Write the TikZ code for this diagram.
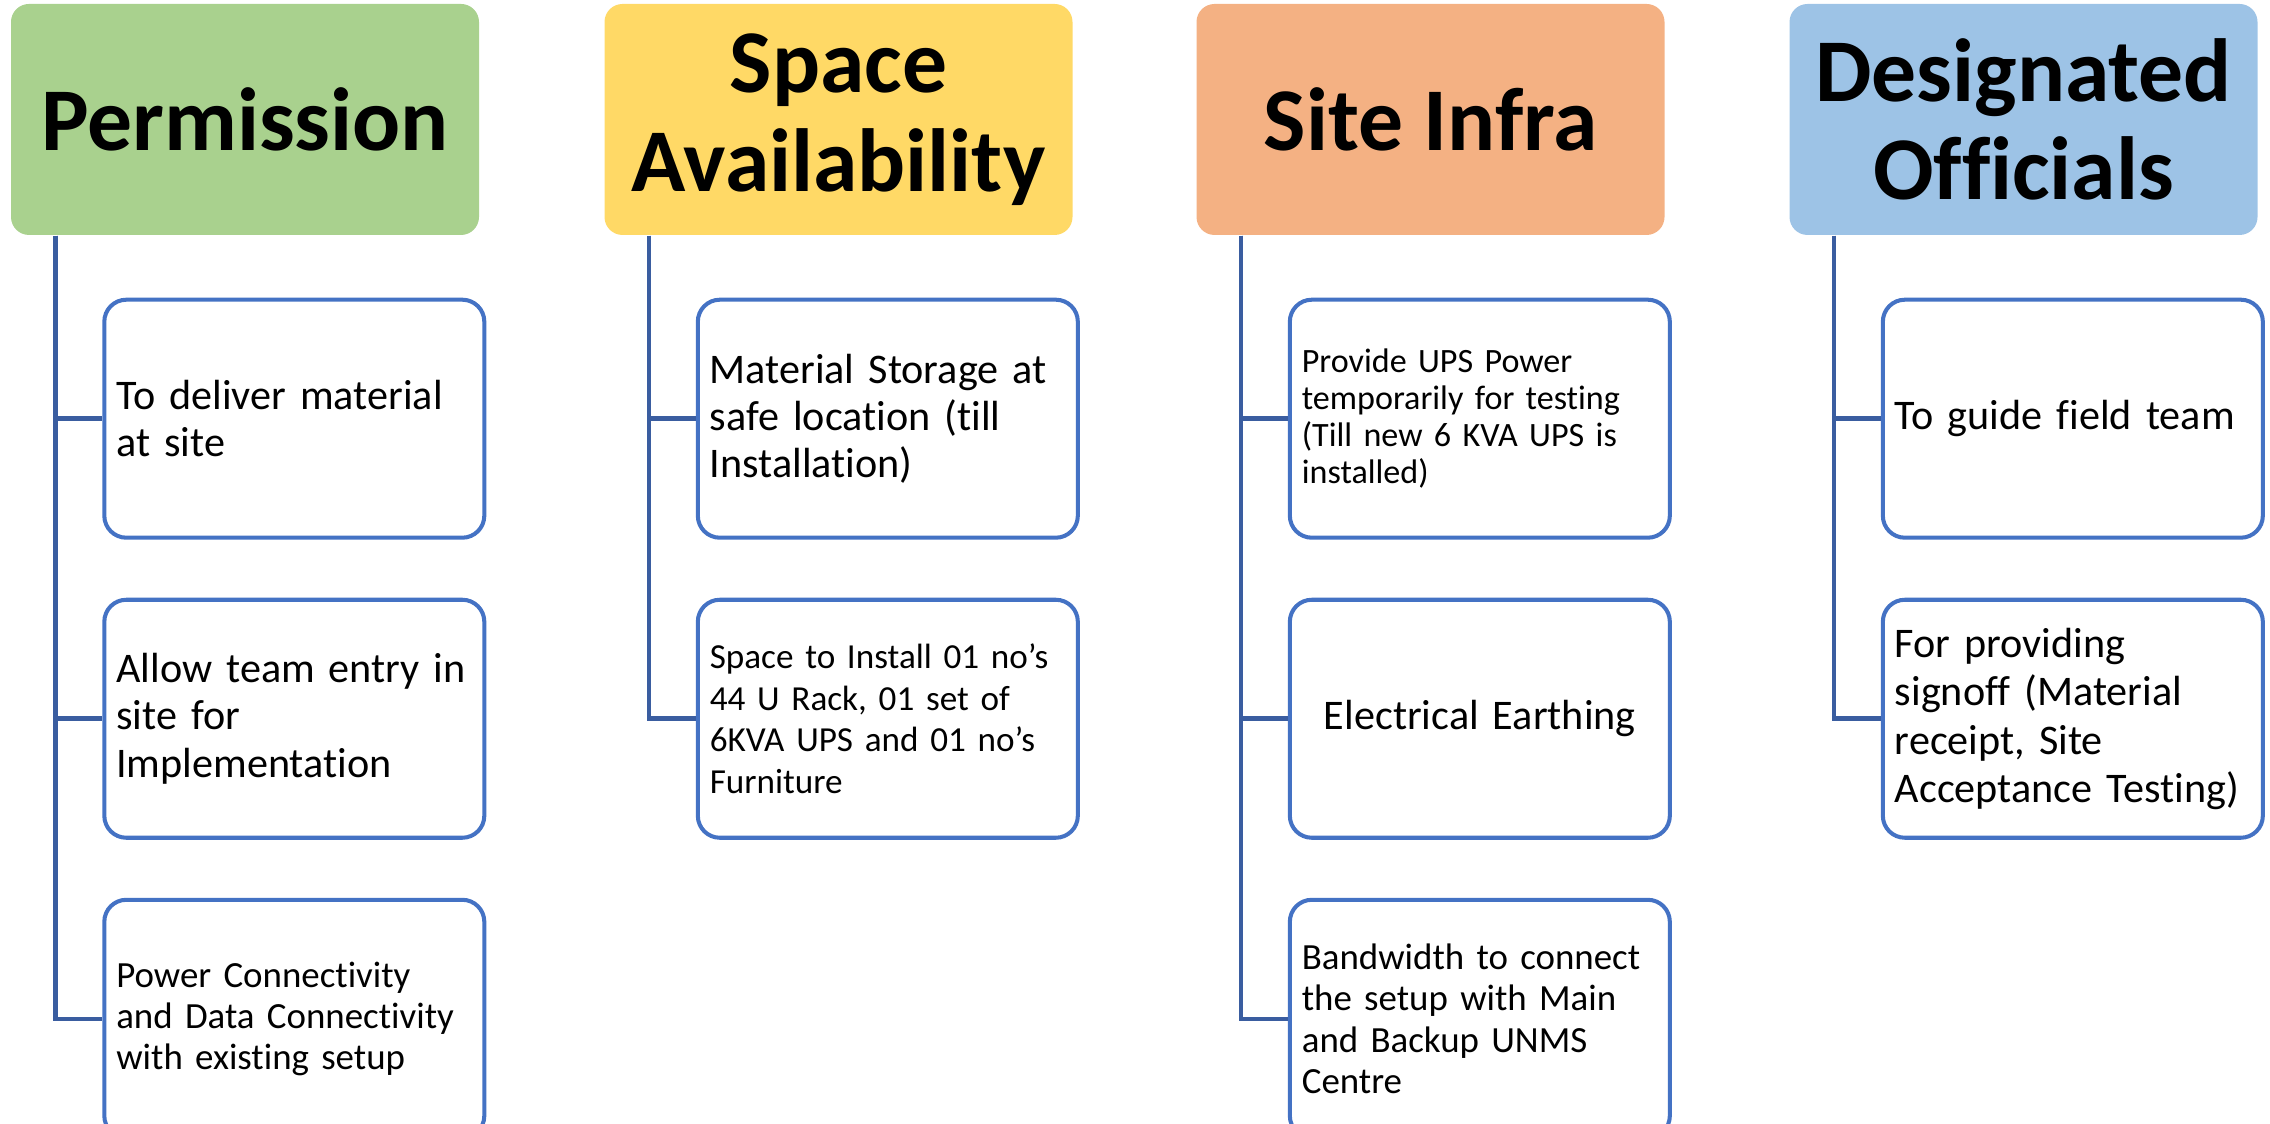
\documentclass[tikz,border=0pt]{standalone}
\usepackage{fontspec}
\setmainfont{Carlito}[Ligatures=NoCommon]
\usepackage{xcolor}
\usepackage{tikz}
\usetikzlibrary{positioning}

\definecolor{hgreen}{HTML}{A9D18E}
\definecolor{hyellow}{HTML}{FFD966}
\definecolor{horange}{HTML}{F4B183}
\definecolor{hblue}{HTML}{9DC3E6}
\definecolor{boxline}{HTML}{4472C4}
\definecolor{treeline}{HTML}{3A5DA0}

\tikzset{
  hdr/.style={rounded corners=0.18cm, minimum width=4.68cm, minimum height=2.31cm, inner sep=0pt, align=center, font=\fontsize{25.5}{28}\selectfont\bfseries},
  item/.style={draw=boxline, line width=1.15pt, rounded corners=0.22cm, fill=white, text width=3.56cm, inner xsep=0.12cm, minimum height=2.38cm, align=left, font=\fontsize{12}{13.4}\selectfont},
  link/.style={draw=treeline, line width=1.3pt},
}

\begin{document}
\begin{tikzpicture}
\useasboundingbox (0,0) rectangle (22.7,11.24);

\node[hdr, fill=hgreen] (perm) at (2.45,10.045) {Permission};
\node[hdr, fill=hyellow] (space) at (8.385,10.045) {Space\\Availability};
\node[hdr, fill=horange] (infra) at (14.305,10.045) {Site Infra};
\node[hdr, fill=hblue] (desig) at (20.235,10.045) {Designated\\Officials};

\node[item, anchor=north west] (perm1) at ([xshift=0.92cm,yshift=-0.62cm]perm.south west) {To deliver material\\at site};
\node[item, below=0.58cm of perm1] (perm2) {Allow team entry in\\site for\\Implementation};
\node[item, below=0.58cm of perm2, font=\fontsize{10.5}{11.7}\selectfont] (perm3) {Power Connectivity\\and Data Connectivity\\with existing setup};

\node[item, anchor=north west] (space1) at ([xshift=0.92cm,yshift=-0.62cm]space.south west) {Material Storage at\\safe location (till\\Installation)};
\node[item, below=0.58cm of space1, font=\fontsize{10}{11.9}\selectfont] (space2) {Space to Install 01 no’s\\44 U Rack, 01 set of\\6KVA UPS and 01 no’s\\Furniture};

\node[item, anchor=north west, font=\fontsize{9.7}{10.5}\selectfont] (infra1) at ([xshift=0.92cm,yshift=-0.62cm]infra.south west) {Provide UPS Power\\temporarily for testing\\(Till new 6 KVA UPS is\\installed)};
\node[item, below=0.58cm of infra1, align=center] (infra2) {Electrical Earthing};
\node[item, below=0.58cm of infra2, font=\fontsize{10.5}{11.7}\selectfont] (infra3) {Bandwidth to connect\\the setup with Main\\and Backup UNMS\\Centre};

\node[item, anchor=north west] (desig1) at ([xshift=0.92cm,yshift=-0.62cm]desig.south west) {To guide field team};
\node[item, below=0.58cm of desig1, font=\fontsize{12}{13.8}\selectfont] (desig2) {For providing\\signoff (Material\\receipt, Site\\Acceptance Testing)};

\draw[link] ([xshift=0.45cm]perm.south west) |- (perm1.west);
\draw[link] ([xshift=0.45cm]perm.south west) |- (perm2.west);
\draw[link] ([xshift=0.45cm]perm.south west) |- (perm3.west);

\draw[link] ([xshift=0.45cm]space.south west) |- (space1.west);
\draw[link] ([xshift=0.45cm]space.south west) |- (space2.west);

\draw[link] ([xshift=0.45cm]infra.south west) |- (infra1.west);
\draw[link] ([xshift=0.45cm]infra.south west) |- (infra2.west);
\draw[link] ([xshift=0.45cm]infra.south west) |- (infra3.west);

\draw[link] ([xshift=0.45cm]desig.south west) |- (desig1.west);
\draw[link] ([xshift=0.45cm]desig.south west) |- (desig2.west);
\end{tikzpicture}
\end{document}
